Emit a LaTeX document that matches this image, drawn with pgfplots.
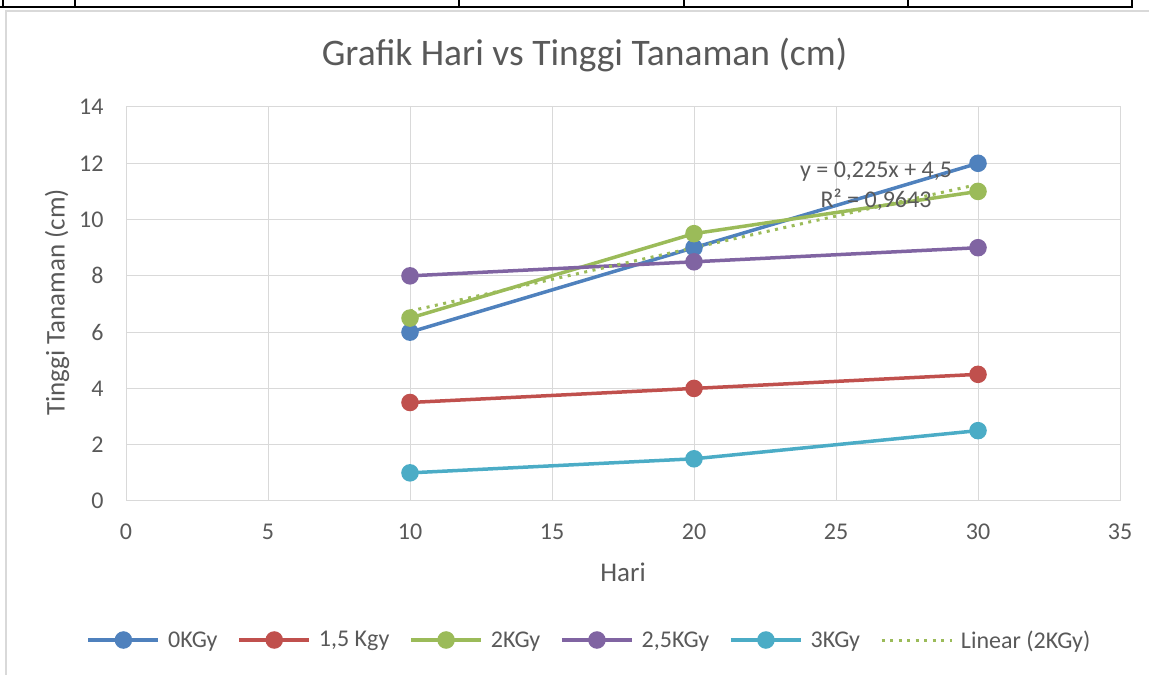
\documentclass[border=0pt]{standalone}
\usepackage{pgfplots}
\pgfplotsset{compat=1.18}
\usepackage{fontspec}
\setmainfont{Carlito}
\definecolor{cblue}{HTML}{4F81BD}
\definecolor{cred}{HTML}{C0504D}
\definecolor{cgreen}{HTML}{9BBB59}
\definecolor{cpurple}{HTML}{8064A2}
\definecolor{ccyan}{HTML}{4BACC6}
\definecolor{cgrid}{HTML}{D9D9D9}
\definecolor{ctext}{HTML}{595959}
\begin{document}
\begin{tikzpicture}
\useasboundingbox (0,0) rectangle (1149bp,675bp);
% sheet table lines and chart border
\draw[line width=2bp,black] (0bp,668bp) -- (1133bp,668bp);
\foreach \xx in {3,75,459,684,908,1132} {\draw[line width=1.5bp,black] (\xx bp,675bp) -- (\xx bp,668bp);}
\draw[line width=1.2bp,cgrid] (6bp,0bp) -- (6bp,664bp) -- (1149bp,664bp);
\node[text=ctext,font=\fontsize{37.5bp}{42bp}\selectfont] at (584.5bp,620bp) {Grafik Hari vs Tinggi Tanaman (cm)};
\begin{axis}[
  at={(126bp,174bp)}, anchor=south west,
  scale only axis, width=994bp, height=394bp,
  xmin=0, xmax=35, ymin=0, ymax=14,
  xtick={0,5,...,35}, ytick={0,2,...,14},
  grid=major, major grid style={line width=1bp,cgrid},
  axis line style={line width=1bp,cgrid},
  tick style={draw=none},
  ticklabel style={text=ctext,font=\fontsize{24bp}{28bp}\selectfont},
  /pgf/number format/assume math mode=true,
  xticklabel style={anchor=center,yshift=-30.5bp},
  yticklabel style={anchor=east,xshift=-19bp},
  xlabel={Hari}, ylabel={Tinggi Tanaman (cm)},
  label style={text=ctext,font=\fontsize{27bp}{31bp}\selectfont},
  xlabel style={at={(axis description cs:0.5,-0.180)},anchor=center},
  ylabel style={at={(axis description cs:-0.0694,0.504)},anchor=center},
  legend columns=6,
  legend style={draw=none,fill=none,at={(axis description cs:0.4663,-0.3528)},anchor=center,
    font=\fontsize{24bp}{28bp}\selectfont,text=ctext,
    /tikz/every even column/.append style={column sep=18bp}},
  legend image code/.code={\draw[mark repeat=2,mark phase=2,#1] plot coordinates {(0bp,0bp)(35bp,0bp)(70bp,0bp)};\path (76bp,0bp);},
  every axis plot/.append style={line width=3.5bp, mark=*, mark size=7bp, mark options={solid}},
]
\addplot[cblue, mark options={fill=cblue,draw=cblue}] coordinates {(10,6) (20,9) (30,12)};
\addlegendentry{0KGy}
\addplot[cred, mark options={fill=cred,draw=cred}] coordinates {(10,3.5) (20,4) (30,4.5)};
\addlegendentry{1,5 Kgy}
\addplot[cgreen, mark options={fill=cgreen,draw=cgreen}] coordinates {(10,6.5) (20,9.5) (30,11)};
\addlegendentry{2KGy}
\addplot[cpurple, mark options={fill=cpurple,draw=cpurple}] coordinates {(10,8) (20,8.5) (30,9)};
\addlegendentry{2,5KGy}
\addplot[ccyan, mark options={fill=ccyan,draw=ccyan}] coordinates {(10,1) (20,1.5) (30,2.5)};
\addlegendentry{3KGy}
\addplot[cgreen, mark=none, line width=3bp, dash pattern=on 3bp off 5.5bp] coordinates {(10,6.75) (30,11.25)};
\addlegendentry{Linear (2KGy)}
\node[text=ctext,font=\fontsize{24bp}{30bp}\selectfont,align=center] at (axis cs:26.41,11.19) {y = 0,225x + 4,5\\R² = 0,9643};
\end{axis}
\end{tikzpicture}
\end{document}
